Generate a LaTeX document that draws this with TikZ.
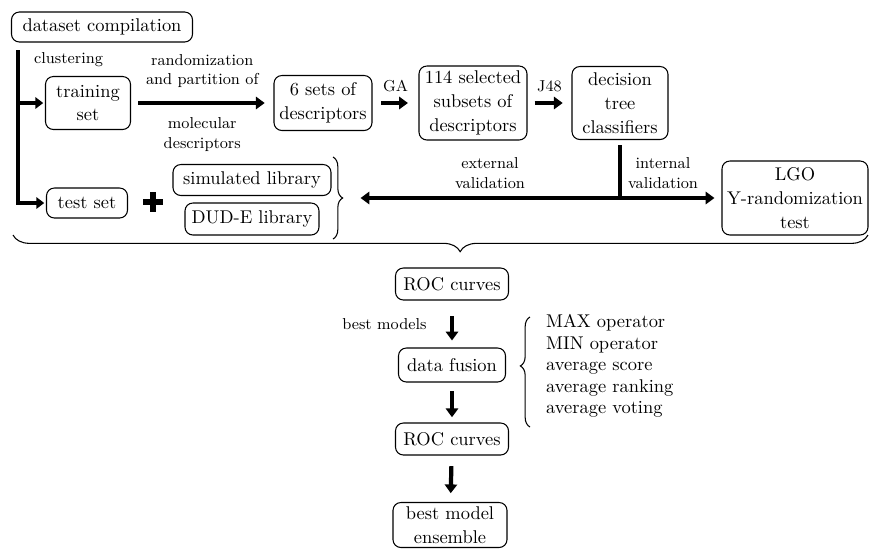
\documentclass[tikz,border=0pt]{standalone}
\usepackage{tikz}
\usetikzlibrary{arrows.meta, decorations.pathreplacing}

\begin{document}
\begin{tikzpicture}[x=0.02cm, y=-0.02cm,
        box/.style={draw, line width=0.6pt, rounded corners=4.5pt, align=center, inner sep=1pt,
                    font=\fontsize{10.5}{13.5}\selectfont},
        wh/.style 2 args={minimum width=#1*0.02cm, minimum height=#2*0.02cm},
        lbl/.style={align=center, font=\fontsize{9}{11}\selectfont},
        flow/.style={line width=2.4pt, -{Triangle[length=5pt, width=7pt]}},
        brc/.style={decorate, line width=0.6pt}]
    \def\boxw{113}
    \def\rowy{103}
    \useasboundingbox (0,0) rectangle (876,552);
    % top row
    \node[box, wh={181}{30}] (compil) at (102,27) {dataset compilation};
    \node[box, wh={85}{53}] (training) at (88,\rowy) {training\\set};
    \node[box, wh={98}{55}] (sets) at (323,\rowy) {6 sets of\\descriptors};
    \node[box, wh={108}{74}] (subsets) at (473,\rowy) {114 selected\\subsets of\\descriptors};
    \node[box, wh={96}{73}] (tree) at (620,\rowy) {decision\\tree\\classifiers};
    \node[box, wh={146}{74}] (lgo) at (795,198) {LGO\\Y-randomization\\test};
    % test sets
    \node[box, wh={81}{30}] (test) at (87,203) {test set};
    \coordinate (plus) at (153,202);
    \fill (plus) +(-10,-2.6) rectangle +(10,2.6);
    \fill (plus) +(-2.6,-10) rectangle +(2.6,10);
    \node[box, wh={158}{31}] (simlib) at (252,180) {simulated library};
    \node[box, wh={134}{32}] (dudlib) at (252,219) {DUD-E library};
    % bottom column
    \node[box, wh={\boxw}{32}] (roc1) at (452,284) {ROC curves};
    \node[box, wh={107}{34}] (fusion) at (452,365) {data fusion};
    \node[box, wh={\boxw}{32}] (roc2) at (452,439) {ROC curves};
    \node[box, wh={114}{45}] (ensemble) at (450,525) {best model\\ensemble};
    \node[anchor=west, align=left, font=\fontsize{10.5}{12.3}\selectfont] (methods) at (540,366)
        {MAX operator\\MIN operator\\average score\\average ranking\\average voting};

    \coordinate (trunk) at (18,50);
    \coordinate (junc) at (tree.south |- lgo.west);
    \coordinate (libtip) at (343,198);
    \coordinate (braceR) at (868,235);
    \coordinate (braceL) at (13,235);

    \draw[flow, line width=2.8pt, -{Triangle[length=4.5pt, width=6.5pt]}] (trunk) |- ([xshift=-1pt]test.west);
    \draw[flow, line width=2.8pt, -{Triangle[length=4.5pt, width=6.5pt]}] (trunk |- training) -- ([xshift=-1pt]training.west);
    \node[lbl, anchor=west] at (28,60) {clustering};

    \draw[flow, shorten <=4pt, shorten >=5pt] (training) -- (sets)
        node[lbl, midway, above=4pt] {randomization\\and partition of}
        node[lbl, midway, below=4pt] {molecular\\descriptors};
    \draw[flow, shorten <=5pt, shorten >=6pt] (sets) -- (subsets) node[lbl, midway, above=2pt] {GA};
    \draw[flow, shorten <=4pt, shorten >=5pt] (subsets) -- (tree) node[lbl, midway, above=2pt] {J48};

    \draw[line width=2.4pt, shorten <=3pt] (tree.south) -- (junc);
    \draw[flow, shorten >=4pt] (junc) -- (lgo.west);
    \draw[flow, shorten >=10pt] (junc) -- (libtip);
    \node[lbl] at (490,173) {external\\validation};
    \node[lbl] at (663,173) {internal\\validation};

    \draw[brc, decoration={brace, amplitude=5.5pt}] (333,157) -- (333,239);
    \draw[brc, decoration={brace, amplitude=9.5pt, aspect=0.477}] (braceR) -- (braceL);
    \draw[brc, decoration={brace, amplitude=5.5pt, aspect=0.555}] (530,427) -- (530,317);

    \draw[flow, shorten <=9pt, shorten >=4pt] (roc1) -- (fusion) node[lbl, midway, left=10pt] {best models};
    \draw[flow, shorten <=5pt, shorten >=3pt] (fusion) -- (roc2);
    \draw[flow, shorten <=6pt, shorten >=5pt] (roc2) -- (ensemble);
\end{tikzpicture}
\end{document}
